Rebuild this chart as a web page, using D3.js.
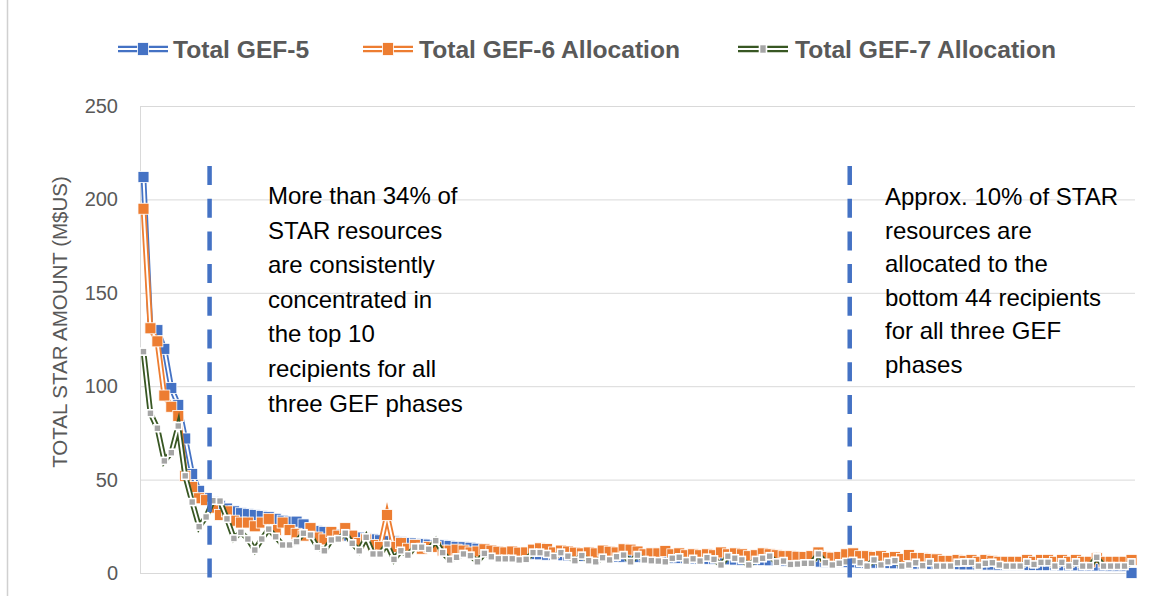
<!doctype html>
<html lang="en">
	<head>
		<meta charset="utf-8" />
		<title>STAR allocations GEF-5 to GEF-7</title>
		<script src="https://cdn.jsdelivr.net/npm/d3@7"></script>
		<style>
			body { margin: 0; background: #fff; }
		</style>
	</head>
	<body>
		<script type="text/javascript">
			// values (M$US), one entry per recipient, sorted by GEF-5
			var gef5 = [212, 131, 130, 120, 99, 90, 72, 53, 44, 40,
				38, 36, 34.5, 33, 32, 31.5, 31, 30.5, 30, 29,
				28, 27.5, 27.5, 26, 24, 22.5, 22, 21, 20.5, 20,
				19.5, 19, 18.5, 18, 17.5, 17, 17, 16.5, 16, 15.8,
				15.5, 15.2, 15, 14.8, 14.5, 14, 13.8, 13.5, 13, 12.5,
				12, 11.5, 11, 10.8, 10.5, 10.3, 10.1, 10, 9.8, 9.6,
				9.5, 9.4, 9.3, 9.2, 9.1, 9, 9, 8.9, 8.8, 8.7,
				8.6, 8.5, 8.4, 8.3, 8.2, 8.1, 8, 8, 7.9, 7.8,
				7.7, 7.6, 7.5, 7.4, 7.3, 7.2, 7.1, 7, 7, 6.9,
				6.8, 6.7, 6.6, 6.5, 6.4, 6.3, 6.2, 6.1, 6, 6,
				5.9, 5.8, 5.7, 5.6, 5.5, 5.5, 5.4, 5.3, 5.2, 5.1,
				5, 5, 4.9, 4.9, 4.8, 4.8, 4.7, 4.7, 4.6, 4.6,
				4.5, 4.5, 4.5, 4.4, 4.4, 4.4, 4.3, 4.3, 4.3, 4.2,
				4.2, 4.2, 4.1, 4.1, 4.1, 4, 4, 4, 4, 3.9,
				3.9, 3.9, 0];
			var gef6 = [195, 131, 124, 95, 89, 84, 52, 46, 40, 39,
				35, 31, 33, 28, 27, 27, 25, 27, 29, 23,
				27, 23, 21, 20, 24, 19, 18, 22, 20, 24,
				20, 16, 18, 15, 14, 31, 14, 16, 13, 15,
				13, 14, 14, 12, 12, 12.5, 12, 11, 11.5, 12.7,
				12, 11.4, 11, 11.5, 10.9, 11, 12.5, 13.2, 12.8, 11,
				12, 11.5, 10.9, 10.5, 11, 10.5, 12, 11.4, 11, 12.7,
				12.5, 11.5, 10, 10.5, 10.5, 11.8, 10, 10.5, 9.5, 10,
				9.5, 10, 9.5, 11, 10, 10.5, 10, 9, 9.5, 10.5,
				10, 9.5, 9, 9, 8.7, 8.5, 9, 11, 8.5, 8.2,
				8.5, 10, 10.5, 9, 9, 8.5, 9, 8, 8.5, 7.5,
				9.6, 8, 8, 7.5, 7.3, 6.5, 6.5, 7, 6.5, 7,
				6, 7, 6.5, 6, 6, 6, 6, 7, 6, 7,
				7, 6, 7, 6, 7, 6, 6, 8, 6, 6,
				6, 6, 7];
			var gef7 = [118.5, 85.5, 77.5, 60, 64.4, 78.7, 52, 38, 24.8, 30,
				38.7, 38.5, 29, 18.5, 21.8, 18.2, 12.3, 18.2, 23.5, 19.4,
				15, 15, 16.8, 21.3, 20.3, 13.8, 11.9, 17.7, 18.2, 21.3,
				15.9, 11.9, 19.1, 10.2, 10.2, 15.5, 7.3, 11.9, 9.6, 13.8,
				13.8, 12.7, 17.3, 10.9, 7, 8.4, 10.2, 9.3, 6, 10.5,
				8.7, 7.6, 7.6, 7.6, 7, 7.3, 10.9, 10.9, 10.2, 8.7,
				10.9, 9, 6.6, 9.3, 6.6, 6, 8.2, 7, 8.7, 9.6,
				6, 9.6, 7, 6.6, 6.4, 6, 7.9, 8.4, 6.4, 7.6,
				6.4, 8.2, 7.3, 4.3, 9, 7.9, 7, 4.3, 7, 7.9,
				9, 5.7, 6.4, 4.6, 4.8, 5.2, 5.2, 10.2, 5.5, 4.3,
				5.2, 6, 6.5, 5.5, 3.7, 7, 4.3, 6, 6.6, 3.7,
				4.3, 5.5, 3.9, 5.7, 3.7, 3.7, 3.7, 5.5, 5.7, 5.7,
				3.7, 5.2, 5.5, 4.3, 3.7, 3.7, 3.7, 5.7, 4.6, 5.7,
				5.7, 3.7, 5.7, 3.7, 5.7, 3.7, 3.7, 8.4, 3.7, 3.7,
				3.7, 3.7, 5.7];
			var seriesNames = ["Total GEF-5", "Total GEF-6 Allocation", "Total GEF-7 Allocation"];
			var yTicks = [0, 50, 100, 150, 200, 250];
			var yTitle = "TOTAL STAR AMOUNT (M$US)";
			// annotation boxes: dashed line after this many recipients
			var topCut = 10;
			var bottomCut = 102;
			var leftNote = ["More than 34% of", "STAR resources", "are consistently", "concentrated in",
				"the top 10", "recipients for all", "three GEF phases"];
			var rightNote = ["Approx. 10% of STAR", "resources are", "allocated to the",
				"bottom 44 recipients", "for all three GEF", "phases"];

			var w = 1153;
			var h = 596;
			var plot = {left: 140, right: 1135, top: 106, bottom: 573};
			var gray = "#595959";
			var font = "'Liberation Sans', Arial, sans-serif";

			var series = [
				{name: seriesNames[0], values: gef5, line: "#4472C4", fill: "#4472C4", size: 11, edge: 0.8},
				{name: seriesNames[1], values: gef6, line: "#ED7D31", fill: "#ED7D31", size: 11, edge: 0.8},
				{name: seriesNames[2], values: gef7, line: "#385723", fill: "#A5A5A5", size: 7, edge: 1.6}
			];

			var svg = d3.select("body")
				.append("svg")
				.attr("width", w)
				.attr("height", h)
				.style("font-family", font);

			svg.append("rect").attr("width", w).attr("height", h).attr("fill", "#fff");
			// chart frame edge on the left
			svg.append("line")
				.attr("x1", 7.5).attr("x2", 7.5)
				.attr("y1", 0).attr("y2", h)
				.attr("stroke", "#D0D0D0")
				.attr("stroke-width", 1.5);

			var x = d3.scaleBand()
				.domain(d3.range(gef5.length))
				.range([plot.left, plot.right])
				.padding(0);
			var bw = x.bandwidth();
			var cx = function(i) { return x(i) + bw / 2; };

			var y = d3.scaleLinear()
				.domain([0, 250])
				.range([plot.bottom, plot.top]);

			// gridlines + tick labels
			var yAxis = svg.append("g")
				.attr("transform", "translate(" + plot.left + ",0)")
				.call(d3.axisLeft(y)
					.tickValues(yTicks)
					.tickSize(-(plot.right - plot.left))
					.tickPadding(22)
					.tickFormat(d3.format("d")));
			yAxis.select(".domain").remove();
			yAxis.selectAll(".tick line")
				.attr("stroke", "#D9D9D9")
				.attr("stroke-width", 1);
			yAxis.selectAll(".tick text")
				.attr("fill", gray)
				.style("font-size", "20px")
				.style("font-family", font);

			// vertical axis line
			svg.append("line")
				.attr("x1", plot.left + 0.5).attr("x2", plot.left + 0.5)
				.attr("y1", plot.top).attr("y2", plot.bottom)
				.attr("stroke", "#D9D9D9");

			svg.append("text")
				.attr("transform", "translate(67,322) rotate(-90)")
				.attr("text-anchor", "middle")
				.attr("fill", gray)
				.style("font-size", "20.5px")
				.text(yTitle);

			var line = d3.line()
				.x(function(d, i) { return cx(i); })
				.y(function(d) { return y(d); });

			// each series: double (compound) line then its markers
			series.forEach(function(s) {
				var g = svg.append("g");
				g.append("path")
					.attr("d", line(s.values))
					.attr("fill", "none")
					.attr("stroke", s.line)
					.attr("stroke-width", 5.6)
					.attr("stroke-linejoin", "miter")
					.attr("stroke-miterlimit", 10);
				g.append("path")
					.attr("d", line(s.values))
					.attr("fill", "none")
					.attr("stroke", "#fff")
					.attr("stroke-width", 2)
					.attr("stroke-linejoin", "miter")
					.attr("stroke-miterlimit", 10);
				g.selectAll("rect")
					.data(s.values)
					.enter()
					.append("rect")
					.attr("x", function(d, i) { return cx(i) - s.size / 2; })
					.attr("y", function(d) { return y(d) - s.size / 2; })
					.attr("width", s.size)
					.attr("height", s.size)
					.attr("fill", s.fill)
					.attr("stroke", "#fff")
					.attr("stroke-width", s.edge);
			});

			// legend
			var legendPos = [{x0: 118, x1: 168, tx: 173}, {x0: 363, x1: 413, tx: 419}, {x0: 738, x1: 788, tx: 795}];
			var legend = svg.selectAll(".legend")
				.data(series)
				.enter()
				.append("g")
				.attr("class", "legend");
			legend.append("line")
				.attr("x1", function(d, i) { return legendPos[i].x0; })
				.attr("x2", function(d, i) { return legendPos[i].x1; })
				.attr("y1", 49).attr("y2", 49)
				.attr("stroke", function(d) { return d.line; })
				.attr("stroke-width", 6.5);
			legend.append("line")
				.attr("x1", function(d, i) { return legendPos[i].x0; })
				.attr("x2", function(d, i) { return legendPos[i].x1; })
				.attr("y1", 49).attr("y2", 49)
				.attr("stroke", "#fff")
				.attr("stroke-width", 2);
			legend.append("rect")
				.attr("x", function(d, i) { return (legendPos[i].x0 + legendPos[i].x1) / 2 - d.size / 2; })
				.attr("y", function(d) { return 49 - d.size / 2 - 1; })
				.attr("width", function(d) { return d.size; })
				.attr("height", function(d) { return d.size + 2; })
				.attr("fill", function(d) { return d.fill; })
				.attr("stroke", "#fff")
				.attr("stroke-width", function(d) { return d.edge; });
			legend.append("text")
				.attr("x", function(d, i) { return legendPos[i].tx; })
				.attr("y", 58)
				.attr("fill", gray)
				.style("font-size", "24.6px")
				.style("font-weight", "bold")
				.text(function(d) { return d.name; });

			// dashed markers between groups of recipients
			[topCut, bottomCut].forEach(function(k) {
				svg.append("line")
					.attr("x1", x(k)).attr("x2", x(k))
					.attr("y1", 166).attr("y2", 578)
					.attr("stroke", "#4472C4")
					.attr("stroke-width", 4.5)
					.attr("stroke-dasharray", "19,13.7");
			});

			function note(lines, left, base, step) {
				svg.append("text")
					.attr("fill", "#000")
					.style("font-size", "24px")
					.selectAll("tspan")
					.data(lines)
					.enter()
					.append("tspan")
					.attr("x", left)
					.attr("y", function(d, i) { return base + i * step; })
					.text(function(d) { return d; });
			}
			note(leftNote, 268, 204, 34.6);
			note(rightNote, 885, 205, 33.6);
		</script>
	</body>
</html>
